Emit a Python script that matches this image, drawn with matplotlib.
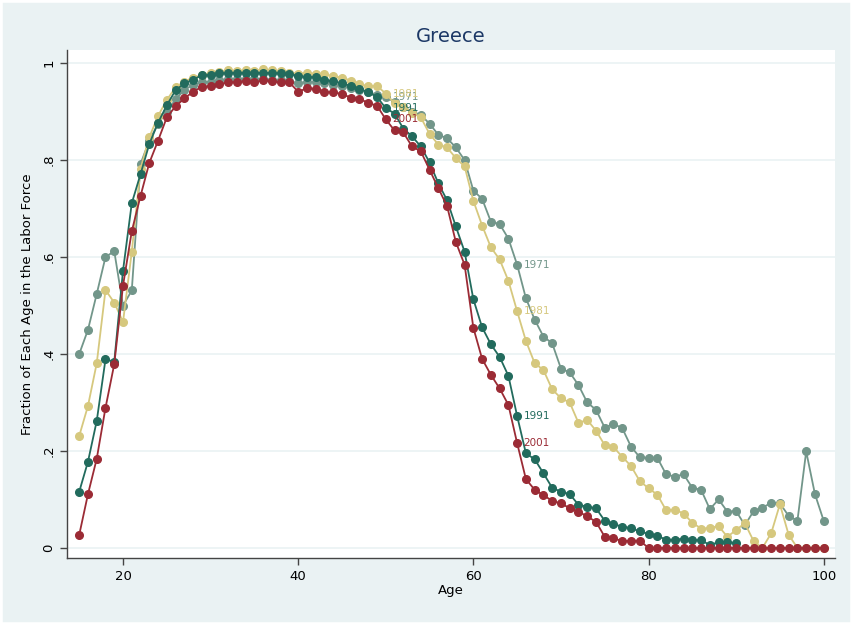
import matplotlib
matplotlib.use("Agg")
import matplotlib.pyplot as plt
from matplotlib.patches import Rectangle

# ages
ages = list(range(15, 101))
ages_1991 = list(range(15, 91))

lf_1971 = [.40, .45, .524, .60, .612, .50, .531, .792, .84, .875,
           .90, .925, .945, .955, .96, .962, .965, .967, .968, .968,
           .968, .967, .966, .965, .963, .958, .962, .96, .958, .955,
           .952, .948, .944, .94, .935, .93, .92, .91, .90, .893,
           .875, .852, .845, .826, .80, .737, .72, .673, .668, .638,
           .584, .515, .471, .436, .422, .370, .362, .336, .30, .285,
           .248, .256, .247, .209, .187, .186, .186, .152, .147, .152,
           .124, .12, .08, .10, .075, .076, .047, .076, .083, .093,
           .092, .066, .056, .199, .111, .056]

lf_1981 = [.231, .293, .381, .532, .506, .466, .611, .782, .847, .891,
           .924, .95, .962, .97, .975, .98, .982, .985, .984, .985,
           .984, .987, .985, .983, .98, .978, .98, .978, .977, .973,
           .97, .964, .957, .952, .953, .937, .917, .91, .898, .888,
           .854, .832, .826, .804, .787, .716, .665, .62, .595, .551,
           .488, .427, .381, .367, .327, .309, .30, .258, .264, .242,
           .212, .208, .188, .169, .138, .123, .11, .078, .079, .071,
           .052, .04, .041, .045, .023, .037, .051, .014, 0, .03,
           .09, .027, 0, 0, 0, 0]

lf_1991 = [.116, .178, .262, .389, .384, .572, .711, .771, .833, .877,
           .913, .944, .958, .966, .975, .975, .979, .979, .98, .98,
           .98, .98, .979, .979, .977, .974, .971, .971, .965, .963,
           .958, .953, .947, .94, .93, .907, .896, .865, .849, .828,
           .795, .752, .717, .663, .611, .513, .455, .42, .394, .355,
           .272, .195, .183, .154, .124, .116, .111, .089, .085, .082,
           .056, .049, .044, .041, .034, .029, .025, .017, .017, .019,
           .016, .016, .006, .012, .012, .01]

lf_2001 = [.027, .111, .184, .289, .379, .541, .653, .726, .794, .84,
           .888, .911, .927, .941, .951, .953, .957, .96, .961, .963,
           .96, .965, .963, .96, .96, .941, .948, .947, .94, .94,
           .936, .929, .926, .918, .912, .884, .861, .857, .828, .818,
           .78, .742, .705, .631, .584, .454, .39, .357, .329, .295,
           .216, .142, .12, .109, .097, .092, .082, .075, .065, .054,
           .023, .02, .014, .015, .015, 0, 0, 0, 0, 0,
           0, 0, 0, 0, 0, 0, 0, 0, 0, 0,
           0, 0, 0, 0, 0, 0]

years = ["1971", "1981", "1991", "2001"]
series = [(ages, lf_1971), (ages, lf_1981), (ages_1991, lf_1991), (ages, lf_2001)]
colors = ["#72968a", "#d6c87e", "#226b5d", "#9b2b35"]
label_ages = [50, 65]

bg = "#eaf2f3"
fig = plt.figure(figsize=(8.53, 6.25), dpi=100, facecolor=bg)
ax = fig.add_axes([0.0785, 0.107, 0.9005, 0.813])
ax.set_facecolor("white")

for (x, y), c, yr in zip(series, colors, years):
    ax.plot(x, y, color=c, lw=1.3, marker="o", ms=5.5, mec=c, mfc=c, zorder=3)
    for a in label_ages:
        if a in x:
            v = y[x.index(a)]
            ax.text(a + 0.75, v, yr, color=c, fontsize=7.5, va="center", ha="left", zorder=4)

ax.set_xlim(13.6, 101.3)
ax.set_ylim(-0.021, 1.027)
ax.set_xticks([20, 40, 60, 80, 100])
ax.set_yticks([0, .2, .4, .6, .8, 1])
ax.set_yticklabels(["0", ".2", ".4", ".6", ".8", "1"], rotation=90, va="center")
ax.grid(axis="y", color=bg, lw=1.2, zorder=0)
ax.set_axisbelow(True)
for s in ["top", "right"]:
    ax.spines[s].set_visible(False)
for s in ["left", "bottom"]:
    ax.spines[s].set_color("#444444")
    ax.spines[s].set_linewidth(1.0)
ax.tick_params(axis="both", colors="#444444", labelcolor="black", labelsize=9.5, length=5, width=1)

ax.set_xlabel("Age", fontsize=9.5, labelpad=1)
ax.set_ylabel("Fraction of Each Age in the Labor Force", fontsize=9.5, labelpad=6)
ax.set_title("Greece", fontsize=14, color="#1c3866", pad=6)

# thin white frame round the graph region
fig.patches.append(Rectangle((0, 0), 1, 1, transform=fig.transFigure, fill=False,
                             edgecolor="white", lw=4))

fig.savefig("out.png", dpi=100, facecolor=bg)
